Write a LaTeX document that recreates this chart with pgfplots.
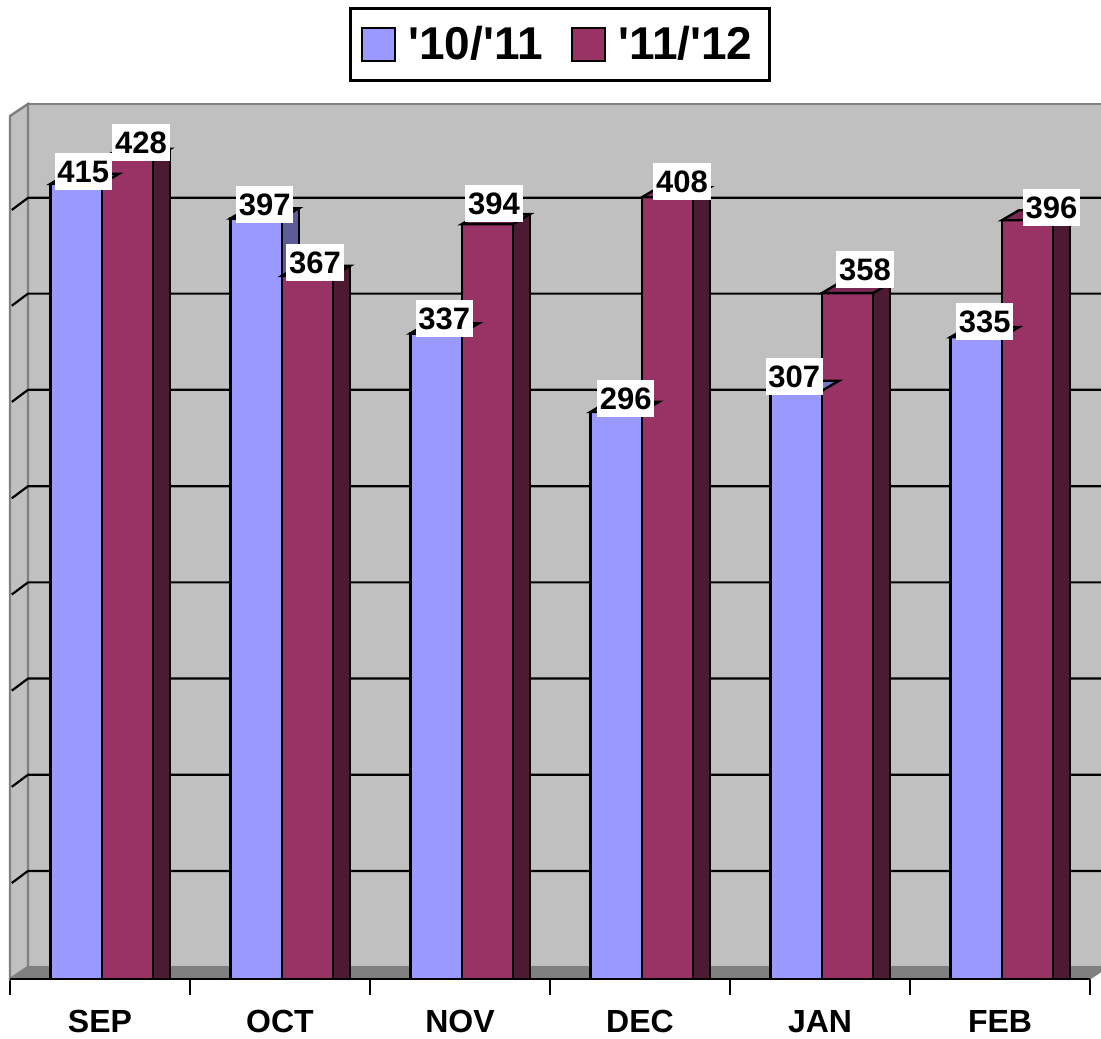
\documentclass[border=0pt]{standalone}
\usepackage{pgfplots}
\pgfplotsset{compat=1.18}
\usepackage{pgfplotstable}
\usepackage{fontspec}
\setmainfont{Liberation Sans}
\definecolor{bluefront}{HTML}{9999FF}
\definecolor{bluetop}{HTML}{7676CC}
\definecolor{blueside}{HTML}{5C5C99}
\definecolor{marfront}{HTML}{993366}
\definecolor{martop}{HTML}{7A2952}
\definecolor{marside}{HTML}{4D1A33}
\definecolor{wall}{HTML}{C0C0C0}
\definecolor{walledge}{HTML}{808080}

% values and label offsets (pt)
\pgfplotstableread{
x v1 v2 lxa lya lxb lyb
0 415 428 3.5 6 6.75 8.25
1 397 367 4.25 7 3.75 6.5
2 337 394 4 7.25 3.25 10.5
3 296 408 4.75 6.5 7.25 7.75
4 307 358 -1 7.25 8.75 12
5 335 396 4.25 7.75 12 6.5
}\data

\pgfdeclareplotmark{topA}{%
  \pgfpathmoveto{\pgfqpoint{-25.65pt}{0pt}}%
  \pgfpathlineto{\pgfqpoint{0pt}{0pt}}%
  \pgfpathlineto{\pgfqpoint{8.5pt}{5pt}}%
  \pgfpathlineto{\pgfqpoint{-17.15pt}{5pt}}%
  \pgfpathclose
  \pgfsetfillcolor{bluetop}%
  \pgfusepathqfillstroke
}
\pgfdeclareplotmark{topB}{%
  \pgfpathmoveto{\pgfqpoint{-25.65pt}{0pt}}%
  \pgfpathlineto{\pgfqpoint{0pt}{0pt}}%
  \pgfpathlineto{\pgfqpoint{8.5pt}{5pt}}%
  \pgfpathlineto{\pgfqpoint{-17.15pt}{5pt}}%
  \pgfpathclose
  \pgfsetfillcolor{martop}%
  \pgfusepathqfillstroke
}

\pgfplotsset{
  sqlegend/.style={legend image code/.code={\draw[##1, draw=black, line width=1pt] (0pt,-8.25pt) rectangle (16.5pt,8.25pt); \path (19.5pt,0pt);}},
  lbl/.style={draw=none, mark=none, forget plot, point meta=explicit symbolic, nodes near coords,
    every node near coord/.append style={font=\bfseries\fontsize{15.5}{15.5}\selectfont, text=black, fill=white, draw=none, inner xsep=1.4pt, inner ysep=3.7pt, text height=11.1pt, text depth=0pt, anchor=center, xshift=0pt, yshift=0pt}},
}

\begin{document}
\begin{tikzpicture}
\useasboundingbox (0,0) rectangle (550.5pt,519pt);
\begin{axis}[
  at={(5pt,29.5pt)}, anchor=south west,
  x=90pt, y=0.958pt,
  xmin=-0.5, xmax=5.5611, ymin=0, ymax=456.7,
  clip=false,
  axis x line*=bottom, axis y line=none,
  x axis line style={draw=none},
  xtick={0,...,5}, xticklabels={SEP,OCT,NOV,DEC,JAN,FEB},
  minor xtick={-0.5,0.5,...,5.5},
  major tick length=0pt, minor tick length=8pt, tick align=outside,
  every tick/.style={black, line width=1.25pt},
  xticklabel style={font=\bfseries\fontsize{16}{16}\selectfont, anchor=base, yshift=-26.5pt},
  legend columns=2,
  legend style={at={(0.504,1)}, anchor=south, yshift=11pt, draw=black, line width=1.5pt,
    font=\bfseries\fontsize{23}{23}\selectfont, inner xsep=5.5pt, inner ysep=6pt,
    nodes={inner sep=3pt},
    /tikz/every even column/.append style={column sep=11pt}},
]
% back wall
\filldraw[fill=wall, draw=walledge, line width=1pt] (axis cs:-0.4,6.26) rectangle (axis cs:5.7,456.7);
% left wall
\filldraw[fill=wall, draw=walledge, line width=1.2pt] (axis cs:-0.5,0) -- (axis cs:-0.4,6.26) -- (axis cs:-0.4,456.7) -- (axis cs:-0.5,450.4) -- cycle;
% floor
\filldraw[fill=walledge, draw=walledge, line width=0.5pt] (axis cs:-0.5,0) -- (axis cs:5.5,0) -- (axis cs:5.6,6.26) -- (axis cs:-0.4,6.26) -- cycle;
% grid lines
\draw[black, line width=1.1pt] (axis cs:-0.49,50.1) -- (axis cs:-0.4,56.4) -- (axis cs:5.7,56.4);
\draw[black, line width=1.1pt] (axis cs:-0.49,100.3) -- (axis cs:-0.4,106.6) -- (axis cs:5.7,106.6);
\draw[black, line width=1.1pt] (axis cs:-0.49,150.5) -- (axis cs:-0.4,156.8) -- (axis cs:5.7,156.8);
\draw[black, line width=1.1pt] (axis cs:-0.49,200.7) -- (axis cs:-0.4,207.0) -- (axis cs:5.7,207.0);
\draw[black, line width=1.1pt] (axis cs:-0.49,250.9) -- (axis cs:-0.4,257.2) -- (axis cs:5.7,257.2);
\draw[black, line width=1.1pt] (axis cs:-0.49,301.2) -- (axis cs:-0.4,307.5) -- (axis cs:5.7,307.5);
\draw[black, line width=1.1pt] (axis cs:-0.49,351.4) -- (axis cs:-0.4,357.7) -- (axis cs:5.7,357.7);
\draw[black, line width=1.1pt] (axis cs:-0.49,401.4) -- (axis cs:-0.4,407.7) -- (axis cs:5.7,407.7);

% series 1: side face, top face, front face
\addplot[ybar, bar width=0.0944, bar shift=0.0577, fill=blueside, draw=black, line width=1.2pt, forget plot]
  table[x=x, y expr=\thisrow{v1}+5.22] {\data};
\addplot[only marks, mark=topA, forget plot, mark options={draw=black, line width=1.2pt}]
  table[x expr=\thisrow{x}+0.0105, y=v1] {\data};
\addplot[ybar, bar width=0.285, bar shift=-0.132, fill=bluefront, draw=black, line width=1.2pt, sqlegend]
  table[x=x, y=v1] {\data};
\addlegendentry{\textquotesingle 10/\textquotesingle 11}
% series 2
\addplot[ybar, bar width=0.0944, bar shift=0.3427, fill=marside, draw=black, line width=1.2pt, forget plot]
  table[x=x, y expr=\thisrow{v2}+5.22] {\data};
\addplot[only marks, mark=topB, forget plot, mark options={draw=black, line width=1.2pt}]
  table[x expr=\thisrow{x}+0.2955, y=v2] {\data};
\addplot[ybar, bar width=0.285, bar shift=0.153, fill=marfront, draw=black, line width=1.2pt, sqlegend]
  table[x=x, y=v2] {\data};
\addlegendentry{\textquotesingle 11/\textquotesingle 12}
% value labels (bar top, offset by the label's own shift)
\addplot[lbl]
  table[x expr=\thisrow{x}-0.132+\thisrow{lxa}/90, y expr=\thisrow{v1}+\thisrow{lya}/0.958, meta=v1] {\data};
\addplot[lbl]
  table[x expr=\thisrow{x}+0.153+\thisrow{lxb}/90, y expr=\thisrow{v2}+\thisrow{lyb}/0.958, meta=v2] {\data};
% axis line
\draw[black, line width=1.25pt] (axis cs:-0.5,0) -- (axis cs:5.5,0);
\end{axis}
\end{tikzpicture}
\end{document}
